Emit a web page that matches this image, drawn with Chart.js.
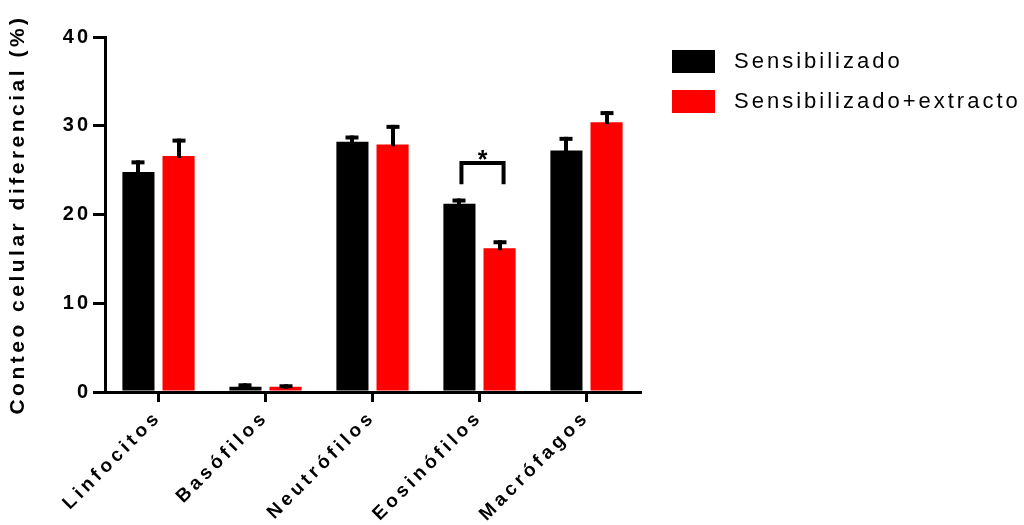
<!DOCTYPE html>
<html>
<head>
<meta charset="utf-8">
<script src="https://cdn.jsdelivr.net/npm/chart.js@4.4.1/dist/chart.umd.min.js"></script>
<style>
  html, body { margin: 0; padding: 0; background: #ffffff; }
  #wrap { width: 1024px; height: 525px; }
</style>
</head>
<body>
<div id="wrap"><canvas id="c" width="1024" height="525"></canvas></div>
<script>
// Cell types on the x axis
const categories = ['Linfocitos', 'Basófilos', 'Neutrófilos', 'Eosinófilos', 'Macrófagos'];
const seriesNames = ['Sensibilizado', 'Sensibilizado+extracto'];

// Mean differential count (%) and upper error (SEM) per group
const sensibilizado    = [24.8, 0.6, 28.2, 21.2, 27.2];
const sensibilizadoErr = [1.3, 0.38, 0.7, 0.6, 1.55];
const extracto         = [26.6, 0.6, 27.9, 16.2, 30.4];
const extractoErr      = [1.95, 0.27, 2.2, 0.9, 1.25];

const yTicks = [0, 10, 20, 30, 40];
const seriesColors = ['#000000', '#ff0000'];

// Significance bracket between the two groups (y values in % units)
const sigCategory = 'Eosinófilos';
const sigTop = 25.8;
const sigLegEnd = 23.4;
const sigMark = '*';

const FONT = '"Liberation Sans", Arial, sans-serif';

// Wider character spacing for axis labels and title
const spacedText = {
  id: 'spacedText',
  beforeDraw(chart) {
    Object.values(chart.scales).forEach(s => {
      if (s._spaced) return;
      s._spaced = true;
      const ls = s.axis === 'x' ? '4px' : '3px';
      const drawLabels = s.drawLabels;
      const drawTitle = s.drawTitle;
      s.drawLabels = function (a) {
        const c = this.ctx; c.save(); c.letterSpacing = ls; drawLabels.call(this, a); c.restore();
      };
      s.drawTitle = function (a) {
        const c = this.ctx; c.save(); c.letterSpacing = '3.5px'; drawTitle.call(this, a); c.restore();
      };
    });
  }
};

// Upper error bars with caps
const errorBars = {
  id: 'errorBars',
  afterDatasetsDraw(chart) {
    const ctx = chart.ctx;
    const y = chart.scales.y;
    chart.data.datasets.forEach((ds, i) => {
      const meta = chart.getDatasetMeta(i);
      meta.data.forEach((bar, j) => {
        const top = y.getPixelForValue(ds.data[j] + ds.errors[j]);
        ctx.save();
        ctx.fillStyle = '#000000';
        ctx.fillRect(Math.round(bar.x) - 2, top, 4, bar.y - top + 2);
        ctx.fillRect(Math.round(bar.x) - 6.5, top, 13, 4);
        ctx.restore();
      });
    });
  }
};

// Bracket with significance mark
const sigBracket = {
  id: 'sigBracket',
  afterDatasetsDraw(chart) {
    const idx = categories.indexOf(sigCategory);
    const b0 = chart.getDatasetMeta(0).data[idx];
    const b1 = chart.getDatasetMeta(1).data[idx];
    const y = chart.scales.y;
    const yTop = y.getPixelForValue(sigTop);
    const yLeg = y.getPixelForValue(sigLegEnd);
    const x0 = b0.x + 2, x1 = b1.x + 4;
    const ctx = chart.ctx;
    ctx.save();
    ctx.strokeStyle = '#000000';
    ctx.lineWidth = 4;
    ctx.lineJoin = 'miter';
    ctx.lineCap = 'butt';
    ctx.beginPath();
    ctx.moveTo(x0, yLeg);
    ctx.lineTo(x0, yTop);
    ctx.lineTo(x1, yTop);
    ctx.lineTo(x1, yLeg);
    ctx.stroke();
    ctx.fillStyle = '#000000';
    ctx.font = 'bold 25px ' + FONT;
    ctx.textAlign = 'center';
    ctx.textBaseline = 'alphabetic';
    ctx.fillText(sigMark, (x0 + x1) / 2, yTop + 5);
    ctx.restore();
  }
};

// Legend to the right of the plot
const sideLegend = {
  id: 'sideLegend',
  afterDraw(chart) {
    const ctx = chart.ctx;
    const left = chart.chartArea.right + 32;
    chart.data.datasets.forEach((ds, i) => {
      const top = 50 + i * 40;
      ctx.save();
      ctx.fillStyle = ds.backgroundColor;
      ctx.fillRect(left, top, 43, 23);
      ctx.fillStyle = '#000000';
      ctx.font = '22px ' + FONT;
      ctx.letterSpacing = '3px';
      ctx.textAlign = 'left';
      ctx.textBaseline = 'middle';
      ctx.fillText(ds.label, left + 62, top + 12);
      ctx.restore();
    });
  }
};

new Chart(document.getElementById('c'), {
  type: 'bar',
  data: {
    labels: categories,
    datasets: [
      { label: seriesNames[0], data: sensibilizado, errors: sensibilizadoErr,
        backgroundColor: seriesColors[0], borderWidth: 0 },
      { label: seriesNames[1], data: extracto, errors: extractoErr,
        backgroundColor: seriesColors[1], borderWidth: 0 }
    ]
  },
  options: {
    responsive: false,
    devicePixelRatio: 1,
    animation: false,
    datasets: { bar: { categoryPercentage: 0.75, barPercentage: 0.8 } },
    layout: { padding: { top: 37, right: 384, left: 0, bottom: 0 } },
    plugins: { legend: { display: false }, tooltip: { enabled: false } },
    scales: {
      x: {
        grid: { display: true, drawOnChartArea: false, drawTicks: true, tickLength: 10,
                lineWidth: 3, color: '#000000', offset: false },
        border: { display: true, width: 3, color: '#000000' },
        ticks: { maxRotation: 45, minRotation: 45, padding: 4, color: '#000000',
                 font: { family: FONT, size: 19, weight: 'bold' } },
        afterFit(s) { s.height = 133; }
      },
      y: {
        min: 0, max: 40,
        afterBuildTicks(s) { s.ticks = yTicks.map(v => ({ value: v })); },
        grid: { display: true, drawOnChartArea: false, drawTicks: true, tickLength: 12,
                lineWidth: 3, color: '#000000' },
        border: { display: true, width: 3, color: '#000000' },
        ticks: { padding: 2, color: '#000000',
                 font: { family: FONT, size: 20, weight: 'bold' } },
        title: { display: true, text: 'Conteo celular diferencial (%)', color: '#000000',
                 font: { family: FONT, size: 21, weight: 'bold' }, padding: { top: 6, bottom: 0 } },
        afterFit(s) { s.width = 105; }
      }
    }
  },
  plugins: [spacedText, errorBars, sigBracket, sideLegend]
});
</script>
</body>
</html>
